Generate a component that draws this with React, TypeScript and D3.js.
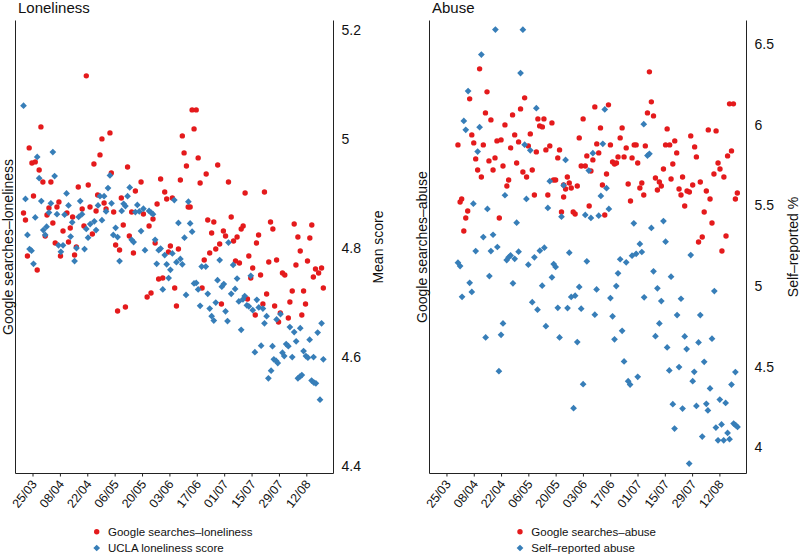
import * as d3 from "d3";
import React, { useEffect, useRef } from "react";

// x values are days since 25/03/2020
const tickDates = ["2020-03-25", "2020-04-08", "2020-04-22", "2020-05-06", "2020-05-20", "2020-06-03",
  "2020-06-17", "2020-07-01", "2020-07-15", "2020-07-29", "2020-08-12"];

const lonelinessTicks = [4.4, 4.6, 4.8, 5, 5.2];
const abuseTicks = [4, 4.5, 5, 5.5, 6, 6.5];

// google search index (left axis, unlabelled)
const lonelinessSearches = [
  [27.5,39.7],[4.3,34.6],[-1.7,32.5],[-0.3,31.0],[1.4,31.1],[3.4,30.3],[5.3,29.1],[9.4,29.1],[35.5,33.4],[39.6,34.0],
  [34.5,31.8],[31.4,30.9],[40.3,30.0],[28.5,28.8],[23.4,28.6],[0.5,27.7],[-4.6,26.0],[-3.6,25.3],[13.5,27.1],[12.5,26.6],
  [8.4,26.5],[7.4,25.8],[10.4,25.0],[17.6,26.0],[20.5,25.6],[25.4,26.4],[29.4,26.6],[33.3,27.8],[36.6,27.0],[37.6,26.4],
  [32.5,26.2],[41.5,26.1],[45.4,27.5],[46.4,24.8],[26.3,24.7],[30.6,23.9],[19.3,24.5],[15.6,24.2],[6.5,23.7],[18.4,23.1],
  [11.6,23.0],[14.3,21.7],[22.4,22.6],[21.5,21.8],[42.5,22.8],[44.5,22.3],[-2.6,21.7],[2.4,20.3],[43.5,16.2],[47.5,16.6],
  [81.6,36.3],[83.7,36.3],[82.6,34.4],[76.6,33.7],[77.5,32.0],[84.7,31.5],[78.7,30.7],[94.7,30.8],[88.8,29.9],[85.7,29.0],
  [100.2,29.1],[48.6,30.6],[55.5,29.1],[65.5,29.4],[75.6,29.3],[52.6,28.2],[67.6,28.1],[68.6,27.4],[71.5,27.5],[63.7,26.9],
  [79.6,26.6],[80.6,26.6],[50.7,26.1],[56.7,25.9],[61.6,25.4],[59.6,24.7],[49.5,23.7],[51.6,22.0],[62.7,23.0],[70.5,22.7],
  [69.5,22.1],[74.6,22.4],[89.6,25.3],[92.7,25.1],[91.6,24.0],[97.6,24.2],[98.7,23.7],[95.7,22.9],[93.7,22.4],[90.6,22.0],
  [87.8,21.3],[64.5,19.4],[66.6,19.5],[72.7,18.5],[86.7,18.5],[60.6,18.0],[58.6,17.6],[73.6,16.7],[96.6,16.9],
  [108.7,28.0],[118.6,28.1],[101.6,25.6],[107.7,24.7],[106.7,24.4],[104.6,23.6],[102.8,23.2],[115.6,23.8],[114.5,23.0],
  [121.7,25.1],[122.9,24.4],[133.8,24.9],[142.8,24.8],[135.7,23.6],[141.8,23.5],[136.9,22.2],[110.6,21.7],[103.8,21.2],
  [105.8,21.0],[120.8,21.1],[124.8,21.3],[134.7,20.8],[140.6,21.2],[112.6,20.5],[116.6,19.8],[111.6,19.5],[127.8,20.0],
  [129.0,19.8],[144.7,20.4],[147.8,20.5],[146.3,20.0],[143.6,19.6],[148.7,18.5],[132.8,18.2],[138.6,18.2],[119.7,17.9],
  [109.9,17.4],[117.8,16.9],[131.6,17.1],[139.6,16.9],[123.8,16.7],[113.9,15.8],[126.7,16.0],[125.8,15.1],[130.8,15.5],
  [137.7,15.8]
];

// UCLA loneliness mean score
const lonelinessUcla = [
  [-4.6,5.061],[10.4,4.976],[2.4,4.967],[3.4,4.928],[11.3,4.932],[39.6,4.933],[38.6,4.910],[-3.6,4.890],[4.5,4.886],
  [9.4,4.882],[17.4,4.900],[18.4,4.878],[24.4,4.886],[33.5,4.878],[34.5,4.895],[36.6,4.895],[40.4,4.882],[1.4,4.856],
  [8.4,4.865],[12.5,4.862],[16.4,4.861],[23.6,4.857],[25.3,4.862],[37.6,4.867],[45.6,4.868],[47.5,4.877],[20.3,4.847],
  [7.2,4.839],[5.5,4.833],[6.5,4.824],[27.5,4.835],[29.5,4.844],[31.6,4.849],[32.5,4.833],[35.5,4.851],[42.5,4.837],
  [41.3,4.824],[43.5,4.820],[28.4,4.819],[-2.6,4.824],[19.5,4.821],[13.3,4.805],[15.6,4.805],[14.5,4.793],[22.5,4.800],
  [26.6,4.798],[-1.5,4.798],[-0.5,4.795],[0.5,4.771],[21.5,4.776],[44.5,4.776],
  [49.7,4.911],[48.6,4.895],[46.6,4.881],[53.6,4.879],[52.6,4.866],[54.6,4.867],[56.7,4.872],[59.6,4.868],[60.6,4.865],
  [61.6,4.862],[72.5,4.888],[79.7,4.885],[74.6,4.846],[80.6,4.845],[81.6,4.830],[77.7,4.819],[55.5,4.831],[50.7,4.815],
  [51.7,4.811],[62.7,4.815],[57.5,4.796],[64.5,4.796],[65.5,4.799],[67.6,4.787],[71.5,4.790],[75.6,4.780],[76.6,4.770],
  [73.6,4.774],[68.6,4.770],[63.5,4.771],[70.5,4.760],[69.6,4.745],[66.6,4.724],[78.5,4.714],[86.5,4.766],[88.6,4.766],
  [95.7,4.778],[82.6,4.735],[83.7,4.736],[84.7,4.724],[89.6,4.716],[94.6,4.741],[96.8,4.729],[97.8,4.734],[85.7,4.694],
  [90.6,4.689],[93.7,4.700],[91.6,4.675],[92.7,4.667],[98.7,4.684],[99.7,4.666],[100.2,4.810],
  [102.6,4.769],[104.6,4.744],[111.6,4.749],[101.6,4.716],[103.6,4.725],[105.5,4.702],[107.6,4.706],[108.5,4.712],
  [109.6,4.695],[110.6,4.693],[112.6,4.686],[114.7,4.705],[115.7,4.691],[117.8,4.689],[106.7,4.650],[119.7,4.675],
  [118.6,4.662],[124.8,4.669],[126.8,4.679],[131.6,4.655],[133.8,4.646],[136.9,4.653],[147.8,4.662],[145.8,4.645],
  [141.7,4.632],[134.8,4.629],[129.7,4.624],[130.8,4.620],[122.7,4.620],[116.9,4.621],[113.7,4.609],[127.8,4.608],
  [128.7,4.602],[132.8,4.600],[138.6,4.611],[139.8,4.602],[140.8,4.599],[143.7,4.600],[148.7,4.596],[123.4,4.596],
  [124.6,4.593],[125.4,4.589],[122.0,4.575],[120.6,4.561],[135.7,4.561],[136.7,4.564],[137.7,4.567],[142.7,4.557],
  [143.9,4.553],[144.9,4.552],[147.0,4.522]
];

// google search index for abuse (left axis, unlabelled)
const abuseSearches = [
  [17.0,40.4],[20.8,38.1],[11.9,37.4],[40.1,37.5],[38.0,36.4],[20.0,36.0],[33.9,35.8],[22.8,35.3],[30.0,34.8],[13.0,33.8],
  [35.0,33.8],[43.0,33.9],[46.9,35.4],[47.8,34.7],[25.9,33.2],[28.0,33.3],[37.0,33.1],[5.9,32.8],[14.0,33.0],[18.9,32.8],
  [32.9,32.5],[42.0,32.7],[46.1,32.1],[15.0,31.4],[24.9,31.5],[21.8,31.2],[36.0,31.0],[29.0,30.7],[16.0,30.3],[23.9,30.3],
  [39.2,30.1],[44.0,30.3],[17.9,29.6],[41.1,29.6],[31.9,29.3],[31.0,28.7],[45.1,27.8],[7.8,27.4],[7.0,27.1],[10.9,26.2],
  [9.9,25.5],[27.1,25.5],[8.9,24.2],
  [83.1,36.8],[76.1,36.6],[70.1,35.4],[50.0,35.4],[49.2,34.6],[54.1,35.0],[79.0,34.5],[90.1,34.5],[68.1,33.5],[89.1,33.5],
  [77.1,32.9],[84.1,32.8],[92.2,32.5],[96.3,32.8],[97.3,32.8],[53.0,32.7],[51.0,32.3],[58.0,32.3],[57.1,31.5],[72.0,31.7],
  [78.1,32.0],[88.0,31.6],[91.1,31.6],[95.2,31.5],[75.1,31.3],[85.2,31.1],[86.2,30.9],[87.2,31.0],[98.1,31.0],[69.1,30.7],
  [71.2,30.7],[74.1,30.2],[82.1,29.9],[62.0,29.6],[54.9,29.3],[56.0,29.3],[63.0,29.0],[60.1,28.8],[93.2,28.9],[100.2,29.0],
  [80.0,28.8],[67.1,28.7],[64.0,28.5],[61.1,28.4],[99.2,28.5],[52.0,27.8],[60.1,27.6],[101.2,27.8],[94.4,27.2],[73.2,26.7],
  [59.0,26.1],[65.0,26.1],[66.0,25.9],[81.2,25.8],
  [104.1,40.1],[105.1,37.1],[103.1,36.0],[106.2,35.7],[145.2,36.9],[147.2,36.9],[113.2,34.4],[134.3,34.3],[138.3,34.2],
  [125.3,33.7],[117.1,33.2],[112.4,32.8],[114.5,32.8],[102.0,32.7],[127.3,32.6],[118.1,32.0],[128.2,31.6],[146.2,32.2],
  [144.2,31.7],[116.1,30.9],[139.3,31.0],[111.3,30.4],[140.3,30.4],[137.2,29.9],[142.3,29.6],[121.1,29.6],[107.2,29.5],
  [115.2,29.4],[109.2,29.1],[110.2,28.7],[130.2,29.1],[126.3,28.8],[108.2,28.3],[119.3,28.4],[123.4,28.2],[124.6,28.1],
  [133.3,28.2],[120.3,27.8],[149.2,28.0],[148.2,27.4],[135.2,27.4],[122.2,26.7],[132.2,26.1],[136.2,25.0],[143.4,23.7],
  [131.2,23.6],[129.3,23.1],[141.3,22.2]
];

// self-reported abuse %
const abuseSelfReported = [
  [25.1,6.591],[39.2,6.590],[17.9,6.436],[38.0,6.321],[11.1,6.209],[46.1,6.103],[8.9,6.024],[9.9,5.969],[17.0,5.985],
  [16.0,5.834],[40.1,5.877],[43.0,5.842],[30.0,5.563],[41.0,5.540],[13.8,5.511],[21.0,5.478],[36.0,5.393],[18.9,5.304],
  [23.9,5.318],[15.0,5.217],[22.8,5.217],[26.1,5.242],[37.0,5.213],[30.9,5.161],[32.9,5.190],[35.0,5.169],[31.9,5.178],
  [42.0,5.132],[45.1,5.178],[5.9,5.145],[7.0,5.124],[22.0,5.062],[11.9,5.020],[13.0,4.963],[8.0,4.933],[34.1,5.017],
  [44.0,4.900],[46.7,4.853],[29.0,4.768],[28.0,4.697],[20.1,4.681],[26.9,4.472],
  [81.2,6.095],[101.2,6.004],[80.2,5.882],[75.1,5.824],[61.1,5.782],[73.0,5.716],[60.1,5.625],[53.0,5.650],[82.1,5.607],
  [79.2,5.559],[52.0,5.484],[59.0,5.430],[71.2,5.441],[74.1,5.422],[78.1,5.436],[83.3,5.478],[96.1,5.389],[50.2,5.238],
  [47.9,5.219],[63.0,5.207],[55.0,5.136],[56.0,5.118],[72.0,5.153],[89.1,5.166],[92.2,5.147],[95.2,5.188],[97.3,5.200],
  [100.2,5.211],[99.2,5.261],[54.1,5.054],[88.0,5.079],[49.1,5.002],[68.1,4.994],[87.1,5.000],[64.0,4.932],[66.0,4.940],
  [77.0,4.979],[84.1,4.925],[101.4,4.930],[57.1,4.865],[62.1,4.863],[69.1,4.859],[76.1,4.822],[85.2,4.812],[51.0,4.751],
  [58.0,4.681],[67.1,4.652],[86.2,4.669],[90.1,4.722],[91.1,4.532],[93.2,4.410],[94.2,4.389],[98.1,4.437],[70.1,4.391],
  [65.2,4.242],
  [103.1,5.809],[104.1,5.820],[111.3,5.403],[105.1,5.360],[112.4,5.275],[125.3,5.192],[106.2,5.091],[115.2,5.058],
  [108.2,4.986],[110.2,4.907],[120.3,4.921],[137.4,4.969],[118.3,4.820],[130.2,4.820],[109.2,4.768],[107.2,4.689],
  [122.2,4.687],[136.2,4.673],[129.3,4.650],[113.2,4.619],[123.2,4.609],[132.2,4.530],[148.2,4.466],[114.3,4.476],
  [119.3,4.497],[127.1,4.468],[126.3,4.410],[146.2,4.389],[135.2,4.365],[140.2,4.296],[143.2,4.275],[116.1,4.267],
  [121.1,4.240],[128.2,4.256],[133.3,4.269],[134.1,4.228],[117.0,4.116],[131.2,4.066],[138.2,4.122],[141.1,4.141],
  [147.3,4.147],[148.3,4.137],[149.3,4.126],[144.2,4.089],[139.3,4.043],[142.2,4.043],[145.2,4.050],[124.5,3.899]
];

const RED = "#e41a1c";
const BLUE = "#377eb8";
const FONT = "'Liberation Sans', Arial, Helvetica, sans-serif";

const day0 = Date.UTC(2020, 2, 25);
const toDate = (d: number) => new Date(day0 + d * 864e5);

const panels = [
  {
    title: "Loneliness", left: 15.5, right: 333.5,
    leftLabel: "Google searches\u2013loneliness", rightLabel: "Mean score",
    red: lonelinessSearches, blue: lonelinessUcla,
    redDomain: [-0.03, 45.23], blueDomain: [4.3866, 5.2171], ticks: lonelinessTicks,
    legend: ["Google searches\u2013loneliness", "UCLA loneliness score"], legendX: 96.7,
    rightLabelX: 378,
  },
  {
    title: "Abuse", left: 429.5, right: 746.5,
    leftLabel: "Google searches\u2013abuse", rightLabel: "Self\u2013reported %",
    red: abuseSearches, blue: abuseSelfReported,
    redDomain: [-0.03, 45.23], blueDomain: [3.837, 6.647], ticks: abuseTicks,
    legend: ["Google searches\u2013abuse", "Self\u2013reported abuse"], legendX: 520,
    rightLabelX: 793,
  },
];

const top = 20.5;
const bottom = 473.5;

function drawPanel(svg: any, p: any) {
  const g = svg.append("g");
  const x = d3.scaleUtc().domain([toDate(-8.7), toDate(153.9)]).range([p.left, p.right]);
  const yRed = d3.scaleLinear().domain(p.redDomain).range([bottom, top]);
  const yBlue = d3.scaleLinear().domain(p.blueDomain).range([bottom, top]);
  const diamond = d3.symbol().type(d3.symbolDiamond2 || d3.symbolDiamond).size(29);

  g.append("g").selectAll("circle").data(p.red).enter().append("circle")
    .attr("cx", (d: number[]) => x(toDate(d[0])))
    .attr("cy", (d: number[]) => yRed(d[1]))
    .attr("r", 2.7).attr("fill", RED);

  g.append("g").selectAll("path").data(p.blue).enter().append("path")
    .attr("d", diamond)
    .attr("transform", (d: number[]) => `translate(${x(toDate(d[0]))},${yBlue(d[1])})`)
    .attr("fill", BLUE);

  // frame: left, bottom, right
  g.append("path")
    .attr("d", `M${p.left},${top}V${bottom}H${p.right}V${top}`)
    .attr("fill", "none").attr("stroke", "#222").attr("stroke-width", 1);

  const xAxis = g.append("g").attr("transform", `translate(0,${bottom})`)
    .call(d3.axisBottom(x)
      .tickValues(tickDates.map(s => new Date(s + "T00:00:00Z")))
      .tickFormat(d3.utcFormat("%d/%m"))
      .tickSize(3));
  xAxis.select(".domain").remove();
  xAxis.selectAll("line").attr("stroke", "#222");
  xAxis.selectAll("text")
    .attr("x", 0).attr("y", 0).attr("dy", "0.35em")
    .attr("transform", "translate(1,8) rotate(-52)")
    .style("text-anchor", "end")
    .style("font-size", "12.5px").style("font-family", FONT).attr("fill", "#111");

  const yAxis = g.append("g").attr("transform", `translate(${p.right},0)`)
    .call(d3.axisRight(yBlue).tickValues(p.ticks).tickSize(0).tickPadding(8)
      .tickFormat((d: any) => String(d)));
  yAxis.select(".domain").remove();
  yAxis.selectAll("text").style("font-size", "14px").style("font-family", FONT).attr("fill", "#111");

  g.append("text").attr("x", p.left + 2.5).attr("y", 13.3).text(p.title)
    .style("font-size", "15px").style("font-family", FONT).attr("fill", "#111");

  const midY = (top + bottom) / 2;
  g.append("text").attr("transform", `translate(${p.left - 7.5},${midY}) rotate(-90)`)
    .attr("dy", "0.35em").style("text-anchor", "middle").text(p.leftLabel)
    .style("font-size", "14px").style("font-family", FONT).attr("fill", "#111");
  g.append("text").attr("transform", `translate(${p.rightLabelX},${midY}) rotate(-90)`)
    .attr("dy", "0.35em").style("text-anchor", "middle").text(p.rightLabel)
    .style("font-size", "14px").style("font-family", FONT).attr("fill", "#111");

  // legend
  const lg = g.append("g");
  lg.append("circle").attr("cx", p.legendX).attr("cy", 531.7).attr("r", 2.7).attr("fill", RED);
  lg.append("path").attr("d", diamond).attr("transform", `translate(${p.legendX},548)`).attr("fill", BLUE);
  p.legend.forEach((t: string, i: number) => {
    lg.append("text").attr("x", p.legendX + 11.3).attr("y", 531.7 + i * 16.3).attr("dy", "0.35em")
      .text(t).style("font-size", "11.5px").style("font-family", FONT).attr("fill", "#111");
  });
}

export default function App() {
  const ref = useRef<SVGSVGElement>(null);

  useEffect(() => {
    const svg = d3.select(ref.current);
    svg.selectAll("*").remove();
    panels.forEach(p => drawPanel(svg, p));
  }, []);

  return (
    <svg ref={ref} width={800} height={555}
      style={{ position: "absolute", left: 0, top: 0, background: "#fff" }} />
  );
}
